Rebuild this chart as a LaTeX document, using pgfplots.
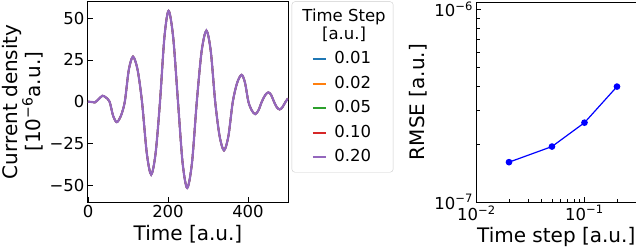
\documentclass[border=0pt]{standalone}
\usepackage{fontspec}
\setmainfont{DejaVu Sans}
\usepackage{pgfplots}
\usepackage{pgfplotstable}
\pgfplotsset{compat=1.18}
\definecolor{c0}{HTML}{1F77B4}
\definecolor{c1}{HTML}{FF7F0E}
\definecolor{c2}{HTML}{2CA02C}
\definecolor{c3}{HTML}{D62728}
\definecolor{c4}{HTML}{9467BD}

% current density (all time steps lie on top of each other)
\pgfplotstableread{
t v
0 0
8 -0.1
17 -0.4
26 1.4
36 3.6
45 2.5
54 0
63 -8.6
72 -12.2
82 -8.6
92 0
102 19.1
112.5 27
124 19.1
135 0
147 -30.8
158 -43.6
169 -30.8
180 0
191 38.5
201.5 54.4
213 38.5
225 0
236.5 -36.5
248 -51.6
260 -36.5
272 0
284 30.1
296 42.6
307 30.1
318 0
329 -20.6
340 -29.1
351 -20.6
362 0
373 11.4
384 16.1
392.5 11.4
401 0
409.5 -5.2
418 -7.4
426 -5.2
434.5 0
443 4.0
451 5.6
458 4.0
465 0
472 -3.3
479 -4.6
486 -3.3
494 0
500 2.0
}\jdata

\begin{document}
\begin{tikzpicture}
\useasboundingbox (-88pt,-47pt) rectangle (548pt,202pt);
\pgfplotsset{every axis/.append style={
  scale only axis, axis line style={line width=1pt},
  tick style={black, line width=0.8pt}, major tick length=5pt, minor tick length=3pt,
  tick align=inside, xtick pos=left, ytick pos=left,
  tick label style={font=\fontsize{16.5}{19.8}\selectfont},
  label style={font=\fontsize{20}{22}\selectfont}}}

\begin{axis}[at={(0pt,0pt)}, anchor=south west, width=200pt, height=200.5pt,
  xmin=0, xmax=500, ymin=-60, ymax=60,
  xtick={0,200,400}, xticklabels={0,200,400},
  ytick={-50,-25,0,25,50}, yticklabels={−50,−25,0,25,50},
  xlabel={Time [a.u.]},
  ylabel={Current density\\{[}10\textsuperscript{−6}a.u.{]}}, ylabel style={align=center},
  legend cell align=left,
  legend image code/.code={\path (-12.3pt,0pt); \draw[#1, line width=2pt] (0pt,0pt) -- (13pt,0pt);},
  legend style={at={(1.0185,1.0)}, anchor=north west, draw=black!20, rounded corners=3pt,
    fill=white, inner xsep=7.5pt, inner ysep=7pt, row sep=8.5pt, column sep=7.7pt,
    font=\fontsize{16.5}{18}\selectfont,
    nodes={inner sep=0pt, text height=12.5pt, text depth=3.5pt}}]
\addlegendimage{empty legend}
\addlegendentry[text height=30.5pt]{\hspace*{-32pt}\begin{tabular}[b]{@{}c@{}}Time Step\\{}[a.u.]\end{tabular}}
\addplot[c0, line width=1.6pt, smooth] table {\jdata}; \addlegendentry{0.01}
\addplot[c1, line width=1.6pt, smooth] table {\jdata}; \addlegendentry{0.02}
\addplot[c2, line width=1.6pt, smooth] table {\jdata}; \addlegendentry{0.05}
\addplot[c3, line width=1.6pt, smooth] table {\jdata}; \addlegendentry{0.10}
\addplot[c4, line width=2.2pt, smooth] table {\jdata}; \addlegendentry{0.20}
\end{axis}

\begin{axis}[at={(388.5pt,0pt)}, anchor=south west, width=159.5pt, height=200pt,
  xmode=log, ymode=log, xmin=0.01, xmax=0.3, ymin=1e-7, ymax=1.09e-6,
  xtick={0.01,0.1}, xticklabels={10\textsuperscript{−2},10\textsuperscript{−1}},
  ytick={1e-7,1e-6}, yticklabels={10\textsuperscript{−7},10\textsuperscript{−6}},
  minor xtick={0.02,0.03,0.04,0.05,0.06,0.07,0.08,0.09,0.2,0.3},
  minor ytick={2e-7,3e-7,4e-7,5e-7,6e-7,7e-7,8e-7,9e-7},
  xlabel={Time step [a.u.]}, ylabel={RMSE [a.u.]}]
\addplot[blue, line width=1.2pt, mark=*, mark size=2.7pt] coordinates {
(0.02,1.61e-7) (0.05,1.94e-7) (0.1,2.58e-7) (0.2,3.97e-7)};
\end{axis}
\end{tikzpicture}
\end{document}
